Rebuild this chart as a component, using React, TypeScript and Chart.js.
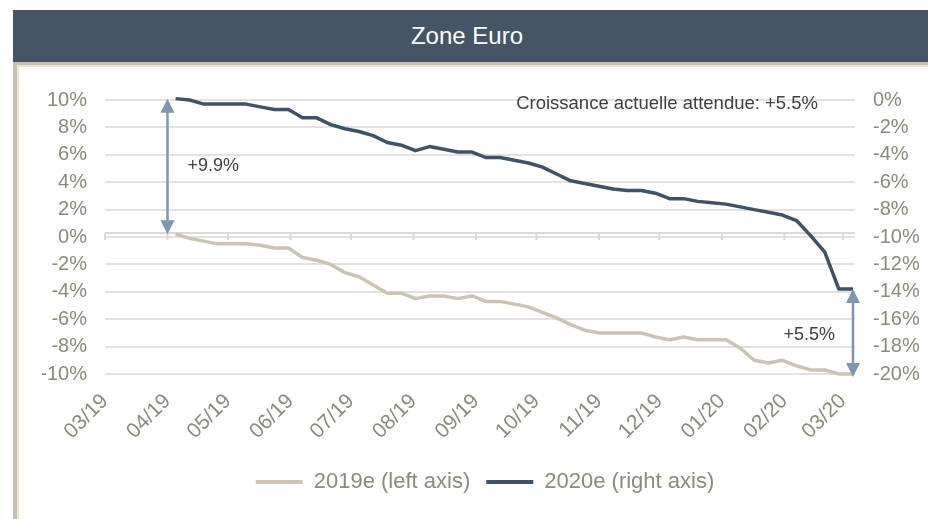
import React, { useEffect, useRef } from "react";
import { Chart, registerables } from "chart.js";

Chart.register(...registerables);

const TITLE = "Zone Euro";
const NOTE_TEXT = "Croissance actuelle attendue: +5.5%";
const GAP_START_LABEL = "+9.9%";
const GAP_END_LABEL = "+5.5%";
const GAP_START_DATE = "2019-04-01";
const AXIS_START_DATE = "2019-03-01";
const AXIS_END_DATE = "2020-03-07";

const seriesNames = ["2019e (left axis)", "2020e (right axis)"];

const monthLabels = [
  "03/19", "04/19", "05/19", "06/19", "07/19", "08/19", "09/19",
  "10/19", "11/19", "12/19", "01/20", "02/20", "03/20",
];

const leftTickValues = [-10, -8, -6, -4, -2, 0, 2, 4, 6, 8, 10];
const rightTickValues = [-20, -18, -16, -14, -12, -10, -8, -6, -4, -2, 0];

const weekDates = [
  "2019-04-05", "2019-04-12", "2019-04-19", "2019-04-26",
  "2019-05-03", "2019-05-10", "2019-05-17", "2019-05-24", "2019-05-31",
  "2019-06-07", "2019-06-14", "2019-06-21", "2019-06-28",
  "2019-07-05", "2019-07-12", "2019-07-19", "2019-07-26",
  "2019-08-02", "2019-08-09", "2019-08-16", "2019-08-23", "2019-08-30",
  "2019-09-06", "2019-09-13", "2019-09-20", "2019-09-27",
  "2019-10-04", "2019-10-11", "2019-10-18", "2019-10-25",
  "2019-11-01", "2019-11-08", "2019-11-15", "2019-11-22", "2019-11-29",
  "2019-12-06", "2019-12-13", "2019-12-20", "2019-12-27",
  "2020-01-03", "2020-01-10", "2020-01-17", "2020-01-24", "2020-01-31",
  "2020-02-07", "2020-02-14", "2020-02-21", "2020-02-28",
  "2020-03-06",
];

// 2019e consensus growth (left axis, %)
const growth2019 = [
  0.2, -0.1, -0.3, -0.5, -0.5, -0.5, -0.6, -0.8, -0.8, -1.5,
  -1.7, -2.0, -2.6, -2.9, -3.5, -4.1, -4.1, -4.5, -4.3, -4.3,
  -4.5, -4.3, -4.7, -4.7, -4.9, -5.1, -5.5, -5.9, -6.4, -6.8,
  -7.0, -7.0, -7.0, -7.0, -7.3, -7.5, -7.3, -7.5, -7.5, -7.5,
  -8.1, -9.0, -9.2, -9.0, -9.4, -9.7, -9.7, -10.0, -10.0,
];

// 2020e consensus growth (right axis, %)
const growth2020 = [
  0.1, 0.0, -0.3, -0.3, -0.3, -0.3, -0.5, -0.7, -0.7, -1.3,
  -1.3, -1.8, -2.1, -2.3, -2.6, -3.1, -3.3, -3.7, -3.4, -3.6,
  -3.8, -3.8, -4.2, -4.2, -4.4, -4.6, -4.9, -5.4, -5.9, -6.1,
  -6.3, -6.5, -6.6, -6.6, -6.8, -7.2, -7.2, -7.4, -7.5, -7.6,
  -7.8, -8.0, -8.2, -8.4, -8.8, -9.9, -11.1, -13.8, -13.8,
];

const FONT = '"Liberation Sans", Arial, sans-serif';
const TAN = "#CCC4B3";
const DARK = "#3F5266";
const ARROW = "#7F97AD";
const AXIS_TEXT = "#8A8B7B";
const NOTE_COLOR = "#404040";
const GRID = "#E2E2E2";

const DAY = 86400000;
const origin = Date.parse(AXIS_START_DATE + "T00:00:00Z");
const dayOf = (s: string) => (Date.parse(s + "T00:00:00Z") - origin) / DAY;
const monthDays = monthLabels.map((l) => {
  const [mm, yy] = l.split("/").map(Number);
  return (Date.UTC(2000 + yy, mm - 1, 1) - origin) / DAY;
});

function drawArrow(ctx: CanvasRenderingContext2D, x: number, yTop: number, yBot: number) {
  const head = 14;
  const half = 7;
  ctx.save();
  ctx.strokeStyle = ARROW;
  ctx.fillStyle = ARROW;
  ctx.lineWidth = 2.5;
  ctx.beginPath();
  ctx.moveTo(x, yTop + head - 1);
  ctx.lineTo(x, yBot - head + 1);
  ctx.stroke();
  ctx.beginPath();
  ctx.moveTo(x, yTop);
  ctx.lineTo(x - half, yTop + head);
  ctx.lineTo(x + half, yTop + head);
  ctx.closePath();
  ctx.fill();
  ctx.beginPath();
  ctx.moveTo(x, yBot);
  ctx.lineTo(x - half, yBot - head);
  ctx.lineTo(x + half, yBot - head);
  ctx.closePath();
  ctx.fill();
  ctx.restore();
}

const overlayPlugin = {
  id: "overlay",
  beforeDatasetsDraw(chart: any) {
    const { ctx, chartArea, scales } = chart;
    const y0 = scales.yL.getPixelForValue(0);
    ctx.save();
    ctx.strokeStyle = "#DADADA";
    ctx.lineWidth = 2;
    ctx.beginPath();
    ctx.moveTo(chartArea.left, y0 - 4);
    ctx.lineTo(chartArea.right, y0 - 4);
    monthDays.forEach((d) => {
      const px = scales.x.getPixelForValue(d);
      ctx.moveTo(px, y0 - 4);
      ctx.lineTo(px, y0 + 3);
    });
    ctx.stroke();
    ctx.restore();
  },
  afterDatasetsDraw(chart: any) {
    const { ctx, chartArea, scales } = chart;
    const last = weekDates.length - 1;

    const x1 = scales.x.getPixelForValue(dayOf(GAP_START_DATE));
    const t1 = scales.yR.getPixelForValue(growth2020[0]);
    const b1 = scales.yL.getPixelForValue(growth2019[0]);
    drawArrow(ctx, x1, t1, b1);

    const x2 = scales.x.getPixelForValue(dayOf(weekDates[last]));
    const t2 = scales.yR.getPixelForValue(growth2020[last]);
    const b2 = scales.yL.getPixelForValue(growth2019[last]) + 3;
    drawArrow(ctx, x2, t2, b2);

    ctx.save();
    ctx.fillStyle = NOTE_COLOR;
    ctx.textBaseline = "middle";
    ctx.font = `18px ${FONT}`;
    ctx.textAlign = "left";
    ctx.fillText(GAP_START_LABEL, x1 + 20, (t1 + b1) / 2);
    ctx.textAlign = "right";
    ctx.fillText(GAP_END_LABEL, x2 - 18, (t2 + b2) / 2 + 2);
    ctx.font = `18.5px ${FONT}`;
    ctx.fillText(NOTE_TEXT, chartArea.right - 37, chartArea.top + 4);
    ctx.restore();
  },
};

export default function App() {
  const canvasRef = useRef<HTMLCanvasElement | null>(null);

  useEffect(() => {
    if (!canvasRef.current) return;
    const chart = new Chart(canvasRef.current, {
      type: "line",
      data: {
        datasets: [
          {
            label: seriesNames[0],
            data: weekDates.map((d, i) => ({ x: dayOf(d), y: growth2019[i] })),
            yAxisID: "yL",
            borderColor: TAN,
            backgroundColor: TAN,
            borderWidth: 3.5,
            pointRadius: 0,
            tension: 0,
            borderJoinStyle: "round",
            clip: false,
          },
          {
            label: seriesNames[1],
            data: weekDates.map((d, i) => ({ x: dayOf(d), y: growth2020[i] })),
            yAxisID: "yR",
            borderColor: DARK,
            backgroundColor: DARK,
            borderWidth: 3.5,
            pointRadius: 0,
            tension: 0,
            borderJoinStyle: "round",
            clip: false,
          },
        ],
      },
      options: {
        animation: false,
        responsive: true,
        maintainAspectRatio: false,
        layout: { padding: { left: 22, right: 0, top: 34, bottom: 0 } },
        plugins: {
          legend: {
            position: "bottom",
            labels: {
              boxWidth: 47,
              boxHeight: 4,
              padding: 16,
              color: AXIS_TEXT,
              font: { size: 22, family: FONT },
              generateLabels: (c: any) =>
                Chart.defaults.plugins.legend.labels
                  .generateLabels(c)
                  .map((it: any) => ({ ...it, lineWidth: 0 })),
            },
          },
          tooltip: { enabled: false },
        },
        scales: {
          x: {
            type: "linear",
            min: 0,
            max: dayOf(AXIS_END_DATE),
            grid: { display: false, drawTicks: false },
            border: { display: false },
            afterBuildTicks: (s: any) => {
              s.ticks = monthDays.map((v) => ({ value: v }));
            },
            afterFit: (s: any) => {
              s.height = 81;
            },
            ticks: {
              autoSkip: false,
              minRotation: 45,
              maxRotation: 45,
              padding: 15,
              color: AXIS_TEXT,
              font: { size: 21, family: FONT },
              callback: (_v: any, i: number) => monthLabels[i],
            },
          },
          yL: {
            position: "left",
            min: leftTickValues[0],
            max: leftTickValues[leftTickValues.length - 1],
            grid: { color: GRID, lineWidth: 2, drawTicks: false },
            border: { display: false },
            afterFit: (s: any) => {
              s.width = 63;
            },
            ticks: {
              stepSize: 2,
              padding: 18,
              color: AXIS_TEXT,
              font: { size: 20, family: FONT },
              callback: (v: any) => `${v}%`,
            },
          },
          yR: {
            position: "right",
            min: rightTickValues[0],
            max: rightTickValues[rightTickValues.length - 1],
            grid: { display: false, drawTicks: false },
            border: { display: false },
            afterFit: (s: any) => {
              s.width = 73;
            },
            ticks: {
              stepSize: 2,
              padding: 18,
              color: AXIS_TEXT,
              font: { size: 20, family: FONT },
              callback: (v: any) => `${v}%`,
            },
          },
        },
      },
      plugins: [overlayPlugin],
    } as any);
    return () => chart.destroy();
  }, []);

  return (
    <div
      style={{
        position: "fixed",
        left: 0,
        top: 0,
        width: 928,
        height: 519,
        overflow: "hidden",
        background: "#ffffff",
      }}
    >
      <div
        style={{
          position: "absolute",
          left: 13,
          top: 10,
          width: 930,
          height: 52,
          background: "#445565",
        }}
      >
        <div
          style={{
            width: 908,
            textAlign: "center",
            lineHeight: "52px",
            color: "#ffffff",
            fontFamily: FONT,
            fontSize: 24,
          }}
        >
          {TITLE}
        </div>
      </div>
      <div
        style={{
          position: "absolute",
          left: 13,
          top: 62,
          width: 930,
          height: 470,
          boxSizing: "border-box",
          borderLeft: "4px solid #C9C0AE",
          borderTop: "3px solid #C9C0AE",
          boxShadow: "inset 2px 2px 0 #E8E6E1",
          background: "#ffffff",
        }}
      />
      <div style={{ position: "absolute", left: 20, top: 66, width: 908, height: 437 }}>
        <canvas ref={canvasRef} />
      </div>
    </div>
  );
}
